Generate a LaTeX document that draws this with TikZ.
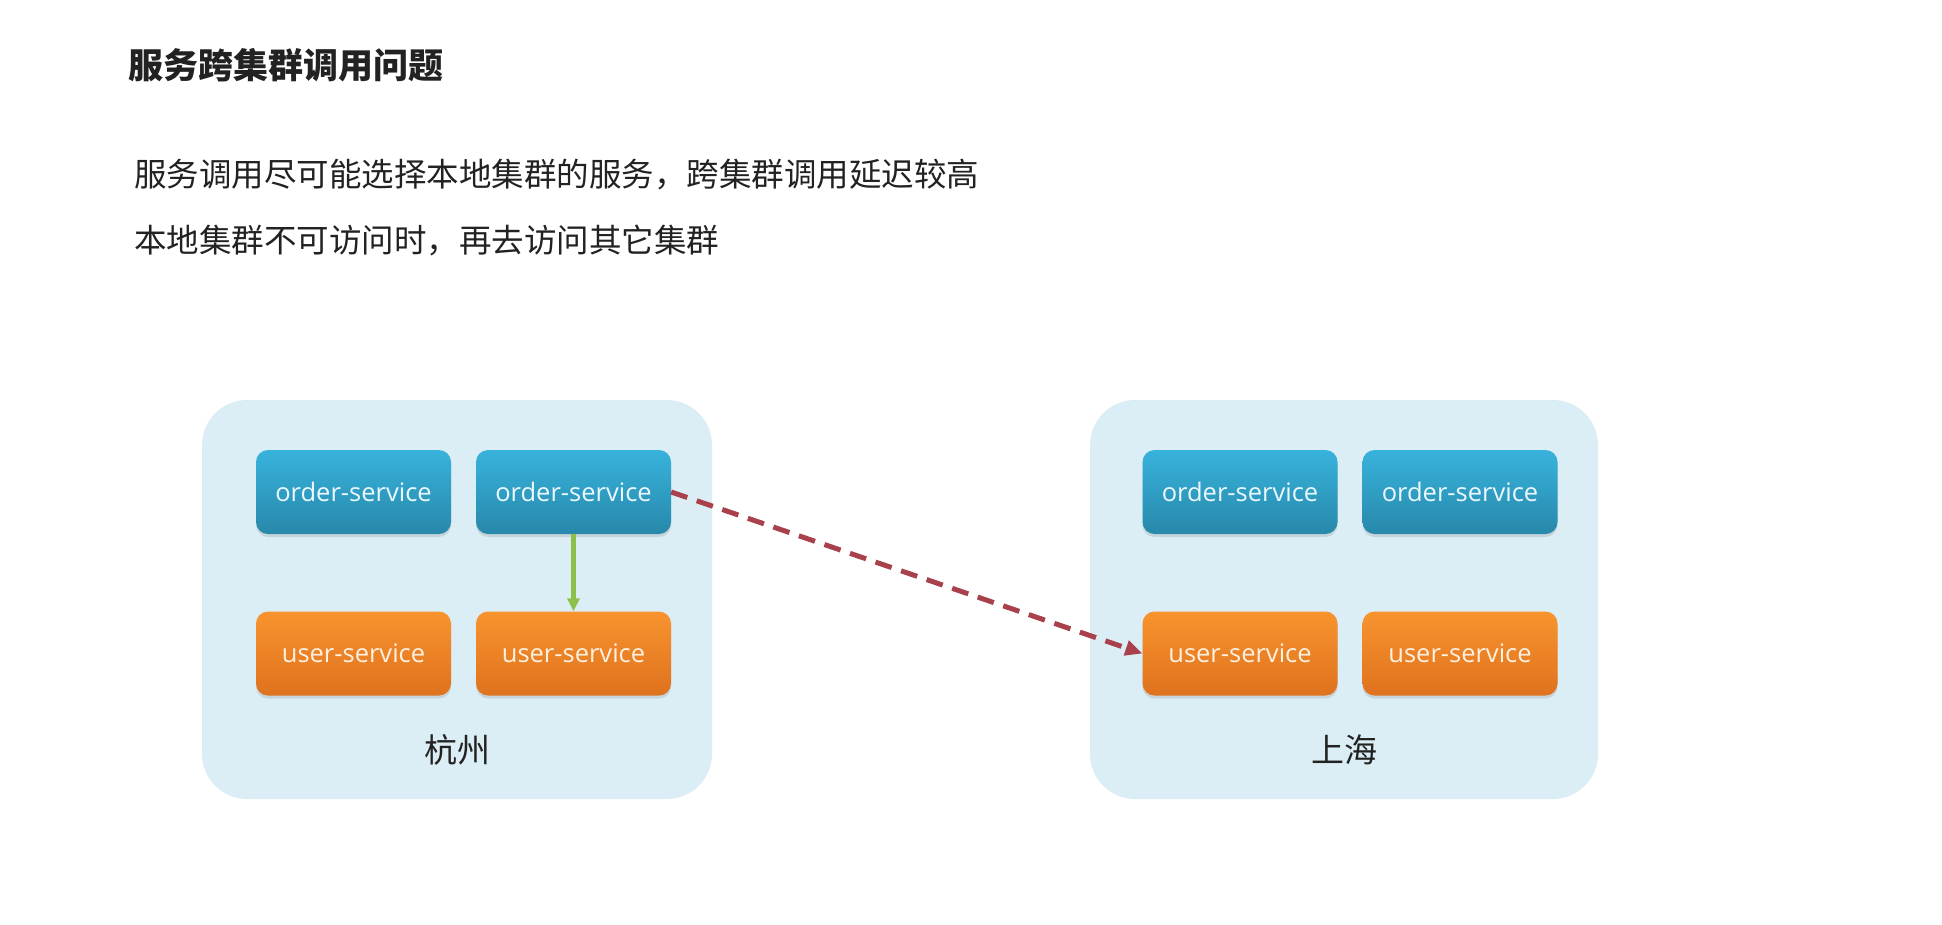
\documentclass[tikz,border=0pt]{standalone}
\usepackage{fontspec}
\setmainfont{Open Sans}
\newfontfamily\cjk{Noto Sans CJK SC}
\usetikzlibrary{arrows.meta,shadows}
\definecolor{panelbg}{HTML}{DCEEF5}
\definecolor{bluetop}{HTML}{38B3DC}
\definecolor{bluebot}{HTML}{2788AA}
\definecolor{orangetop}{HTML}{F8942F}
\definecolor{orangebot}{HTML}{DF721E}
\definecolor{txtdark}{HTML}{222222}
\definecolor{greenln}{HTML}{8CC04A}
\definecolor{redln}{HTML}{A8414C}
\tikzset{
  panel/.style={draw=none, fill=panelbg, rounded corners=45pt, minimum width=510pt, minimum height=399pt, inner sep=0pt},
  svc/.style={draw=none, rounded corners=12pt, minimum width=195pt, minimum height=84pt, inner sep=0pt,
    font=\fontsize{25.5}{29}\selectfont,
    drop shadow={shadow xshift=0pt, shadow yshift=-3pt, opacity=0.22}},
  ordersvc/.style={svc, top color=bluetop, bottom color=bluebot, text=white!92!cyan},
  usersvc/.style={svc, top color=orangetop, bottom color=orangebot, text=white!88!orange},
  citylbl/.style={font=\cjk\fontsize{33}{38}\selectfont, text=txtdark, inner sep=0pt},
  bodytxt/.style={font=\cjk\fontsize{32.5}{38}\selectfont, text=txtdark, anchor=west, inner sep=0pt},
  titletxt/.style={font=\cjk\bfseries\fontsize{35}{40}\selectfont, text=txtdark, anchor=west, inner sep=0pt},
  localcall/.style={draw=greenln, line width=4.5pt, -{Triangle[length=13pt,width=12pt]}},
  remotecall/.style={draw=redln, line width=5pt, dash pattern=on 17pt off 10pt, -{Triangle[length=17pt,width=15pt]}}
}
\begin{document}
\begin{tikzpicture}[x=1pt,y=-1pt]
\useasboundingbox (0,0) rectangle (1942,924);
\fill[white] (0,0) rectangle (1942,924);

\node[titletxt] (title) at (128,65) {服务跨集群调用问题};
\node[bodytxt] (line1) at (134,175) {服务调用尽可能选择本地集群的服务，跨集群调用延迟较高};
\node[bodytxt] (line2) at (134,240) {本地集群不可访问时，再去访问其它集群};

\node[panel] (hz) at (457,599.5) {};
\node[panel, minimum width=508pt] (sh) at (1344,599.5) {};
\node[citylbl] (hzl) at (457,750) {杭州};
\node[citylbl] (shl) at (1344,750) {上海};

\node[ordersvc] (o1) at (353.5,492) {order-service};
\node[ordersvc] (o2) at (573.5,492) {order-service};
\node[usersvc] (u1) at (353.5,653.5) {user-service};
\node[usersvc] (u2) at (573.5,653.5) {user-service};

\node[ordersvc] (o3) at (1240,492) {order-service};
\node[ordersvc] (o4) at (1460,492) {order-service};
\node[usersvc] (u3) at (1240,653.5) {user-service};
\node[usersvc] (u4) at (1460,653.5) {user-service};

\draw[localcall] (o2.south) -- (u2.north);
\draw[remotecall] (o2.east) -- (u3.west);
\end{tikzpicture}
\end{document}
